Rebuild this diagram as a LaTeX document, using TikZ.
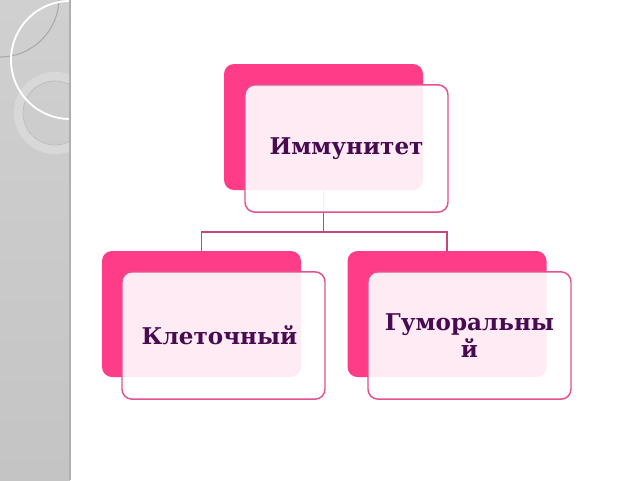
\documentclass[tikz,border=0pt]{standalone}
\usepackage{fontspec}
\newfontfamily\dvs{DejaVu Serif}
\usetikzlibrary{calc}
\definecolor{backpink}{RGB}{255,60,136}
\definecolor{edgepink}{RGB}{230,80,143}
\definecolor{connpink}{RGB}{200,70,125}
\definecolor{txtpurple}{RGB}{72,10,80}
\tikzset{
  backbox/.style={rectangle, rounded corners=7.5pt, fill=backpink, draw=none,
    minimum width=149.25pt, minimum height=94.5pt, inner sep=0pt, outer sep=0pt},
  frontbox/.style={rectangle, rounded corners=7.5pt, fill=white, fill opacity=0.9,
    text opacity=1, draw=edgepink, line width=1.1pt,
    minimum width=152.25pt, minimum height=95.5pt, inner sep=0pt, outer sep=0pt,
    align=center, text=txtpurple,
    font=\dvs\bfseries\fontsize{17.3}{20}\selectfont},
  conn/.style={draw=connpink, line width=1.1pt}
}
\begin{document}
\begin{tikzpicture}[x=0.75pt,y=-0.75pt]
\useasboundingbox (0,0) rectangle (640,480);
\fill[white] (0,0) rectangle (640,480);
% left decorative strip
\shade[top color={rgb,255:red,208;green,208;blue,208}, bottom color={rgb,255:red,196;green,196;blue,196}] (0,0) rectangle (70,480);
\begin{scope}
\clip (0,0) rectangle (70,480);
\draw[line width=7pt, draw={rgb,255:red,216;green,216;blue,216}] (55,113) circle (36.5);
\draw[line width=0.5pt, draw={rgb,255:red,188;green,188;blue,188}] (55,113) circle (32);
\draw[line width=0.8pt, draw={rgb,255:red,170;green,170;blue,170}] (0,-2) circle (59);
\draw[line width=1.4pt, draw=white] (70,60) circle (59);
\end{scope}
\draw[line width=1.2pt, draw={rgb,255:red,175;green,175;blue,175}] (70,0) -- (70,480);
% back boxes
\node[backbox] (tb) at (323.5,127) {};
\node[backbox] (lb) at (201.5,314) {};
\node[backbox] (rb) at (447,314) {};
% connectors
\coordinate (j) at ($(tb.south)+(0,42)$);
\draw[conn] (tb.south) -- (j);
\draw[conn] (lb.north) |- (j) -| (rb.north);
% front boxes
\node[frontbox] (tf) at (346.5,148.5) {\raisebox{-2pt}{Иммунитет}};
\node[frontbox] (lf) at (223.5,335.5) {\hspace*{-6pt}Клеточный};
\node[frontbox] (rf) at (469.5,335.5) {Гуморальны\\й};
\end{tikzpicture}
\end{document}
